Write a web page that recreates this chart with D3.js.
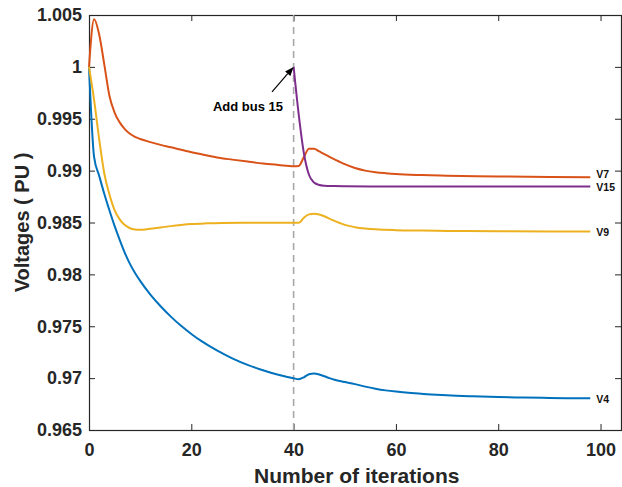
<!DOCTYPE html>
<html>
<head>
<meta charset="utf-8">
<script src="https://cdn.jsdelivr.net/npm/d3@7"></script>
<style>
  html, body { margin: 0; padding: 0; background: #fff; }
  svg { display: block; font-family: "Liberation Sans", Arial, Helvetica, sans-serif; }
</style>
</head>
<body>
<svg id="chart" width="622" height="487"></svg>
<script>
// Bus voltages (PU) against iteration count; bus 15 joins at iteration 40.
const iterV4 = [0,1,2,3,4,5,6,7,8,9,10,12,14,16,18,20,22,25,28,31,34,37,40,41,42,43,44,45,46,47,48,49,50,52,54,56,58,60,63,66,70,75,80,85,90,95,98];
const V4 = [1.0000,0.9913,0.98949,0.98774,0.98615,0.98467,0.98333,0.98208,0.98101,0.98013,0.97937,0.97805,0.97693,0.97593,0.97504,0.97426,0.97356,0.97267,0.97191,0.97128,0.97076,0.97032,0.96998,0.96990,0.97008,0.97038,0.97045,0.97035,0.97018,0.97000,0.96985,0.96972,0.96962,0.96942,0.96918,0.96898,0.96882,0.96870,0.96856,0.96845,0.96834,0.96825,0.96818,0.96813,0.96809,0.96806,0.96805];

const iterV7 = [0,1,2,3,4,5,6,7,8,9,10,12,14,16,19,22,25,28,31,34,37,40,41,42,43,44,45,46,47,48,49,50,52,54,56,58,60,65,70,80,90,98];
const V7 = [1.0000,1.0046,1.0031,1.0002,0.9972,0.9956,0.99465,0.9940,0.99355,0.99325,0.99305,0.99275,0.99248,0.99225,0.99190,0.99158,0.99127,0.99106,0.99087,0.99069,0.99055,0.99042,0.99045,0.99130,0.99210,0.99210,0.99185,0.99160,0.99133,0.99108,0.99085,0.99062,0.99025,0.99000,0.98985,0.98975,0.98967,0.98957,0.98951,0.98944,0.98938,0.98935];

const iterV9 = [0,1,2,3,4,5,6,7,8,9,10,11,12,14,16,18,20,23,26,30,35,40,41,42,43,44,45,46,47,48,49,50,52,54,56,60,65,70,80,90,98];
const V9 = [1.0000,0.9968,0.9930,0.9897,0.9877,0.9862,0.9853,0.98475,0.98445,0.98433,0.98430,0.98433,0.98440,0.98452,0.98465,0.98476,0.98485,0.98492,0.98496,0.98498,0.98498,0.98497,0.98497,0.98545,0.98578,0.98585,0.98578,0.98560,0.98538,0.98515,0.98495,0.98477,0.98455,0.98442,0.98434,0.98426,0.98422,0.98419,0.98416,0.98414,0.98413];

const iterV15 = [40,41,42,43,44,45,46,48,50,55,60,70,80,98];
const V15 = [1.0000,0.9954,0.9917,0.9896,0.98885,0.98862,0.98855,0.98851,0.98849,0.98847,0.98846,0.98846,0.98846,0.98846];

const seriesNames = ["V4", "V7", "V9", "V15"];
const seriesColors = ["#0072BD", "#D95319", "#EDB120", "#7E2F8E"];
const labelShift = [5, 1, 4, 4];

const xTicks = [0, 20, 40, 60, 80, 100];
const yTicks = [0.965, 0.97, 0.975, 0.98, 0.985, 0.99, 0.995, 1, 1.005];
const yTickLabels = ["0.965", "0.97", "0.975", "0.98", "0.985", "0.99", "0.995", "1", "1.005"];

const eventIter = 40;
const eventValue = 1.0;
const eventText = "Add bus 15";

const series = [
  { name: seriesNames[0], xs: iterV4,  ys: V4 },
  { name: seriesNames[1], xs: iterV7,  ys: V7 },
  { name: seriesNames[2], xs: iterV9,  ys: V9 },
  { name: seriesNames[3], xs: iterV15, ys: V15 }
];

const svg = d3.select("#chart");
const padL = 89, padR = 621, padT = 15, padB = 430;

const x = d3.scaleLinear().domain([0, 104]).range([padL, padR]);
const y = d3.scaleLinear().domain([0.965, 1.005]).range([padB, padT]);

const ink = "#262626";
const tickFont = "bold 18px 'Liberation Sans', Arial, sans-serif";

// Bottom axis with inward ticks
const gx = svg.append("g").attr("transform", `translate(0,${padB})`)
  .call(d3.axisBottom(x).tickValues(xTicks).tickSizeInner(-6).tickSizeOuter(0).tickPadding(13));
gx.select(".domain").remove();
gx.selectAll("line").attr("stroke", ink);
gx.selectAll("text").attr("fill", ink).style("font", tickFont);

// Top ticks
svg.append("g").attr("transform", `translate(0,${padT})`)
  .call(d3.axisTop(x).tickValues(xTicks).tickSizeInner(-6).tickSizeOuter(0).tickFormat(""))
  .call(g => g.select(".domain").remove())
  .selectAll("line").attr("stroke", ink);

// Left axis with inward ticks
const gy = svg.append("g").attr("transform", `translate(${padL},0)`)
  .call(d3.axisLeft(y).tickValues(yTicks).tickSizeInner(-6).tickSizeOuter(0).tickPadding(7)
    .tickFormat((d, i) => yTickLabels[i]));
gy.select(".domain").remove();
gy.selectAll("line").attr("stroke", ink);
gy.selectAll("text").attr("fill", ink).style("font", tickFont);

// Right ticks
svg.append("g").attr("transform", `translate(${padR},0)`)
  .call(d3.axisRight(y).tickValues(yTicks).tickSizeInner(-6).tickSizeOuter(0).tickFormat(""))
  .call(g => g.select(".domain").remove())
  .selectAll("line").attr("stroke", ink);

// Axes box
svg.append("rect")
  .attr("x", padL + 0.5).attr("y", padT + 0.5)
  .attr("width", padR - padL).attr("height", padB - padT)
  .attr("fill", "none").attr("stroke", ink).attr("stroke-width", 1.2);

// Dashed marker where bus 15 is added
svg.append("line")
  .attr("x1", x(eventIter)).attr("x2", x(eventIter))
  .attr("y1", y(1.005)).attr("y2", y(0.965))
  .attr("stroke", "#a8a8a8").attr("stroke-width", 1.6)
  .attr("stroke-dasharray", "7,5");

// Voltage curves
const line = d3.line()
  .x(d => x(d[0]))
  .y(d => y(d[1]))
  .curve(d3.curveMonotoneX);

series.forEach((s, i) => {
  const pts = s.xs.map((t, k) => [t, s.ys[k]]);
  svg.append("path")
    .datum(pts)
    .attr("d", line)
    .attr("fill", "none")
    .attr("stroke", seriesColors[i])
    .attr("stroke-width", 2)
    .attr("stroke-linejoin", "round");

  const last = pts[pts.length - 1];
  svg.append("text")
    .attr("x", x(last[0]) + 6)
    .attr("y", y(last[1]) + labelShift[i])
    .attr("fill", "#111")
    .style("font", "bold 10.5px 'Liberation Sans', Arial, sans-serif")
    .text(s.name);
});

// Annotation arrow and text
const hx = x(eventIter), hy = y(eventValue);
const tx = hx - 21.6, ty = hy + 25;
const ang = Math.atan2(hy - ty, hx - tx);
const headLen = 9, headHalf = 3.5;
const bx = hx - headLen * Math.cos(ang), by = hy - headLen * Math.sin(ang);
svg.append("line")
  .attr("x1", tx).attr("y1", ty).attr("x2", bx).attr("y2", by)
  .attr("stroke", "#000").attr("stroke-width", 1.2);
svg.append("path")
  .attr("d", `M${hx},${hy} L${bx + headHalf * Math.sin(ang)},${by - headHalf * Math.cos(ang)} L${bx - headHalf * Math.sin(ang)},${by + headHalf * Math.cos(ang)} Z`)
  .attr("fill", "#000");
svg.append("text")
  .attr("x", tx + 11).attr("y", ty + 19)
  .attr("text-anchor", "end")
  .attr("fill", "#000")
  .style("font", "bold 13px 'Liberation Sans', Arial, sans-serif")
  .text(eventText);

// Axis titles
svg.append("text")
  .attr("x", (padL + x(100)) / 2 + 12).attr("y", 483)
  .attr("text-anchor", "middle").attr("fill", ink)
  .style("font", "bold 21px 'Liberation Sans', Arial, sans-serif")
  .text("Number of iterations");

svg.append("text")
  .attr("transform", `translate(29,${(padT + padB) / 2}) rotate(-90)`)
  .attr("text-anchor", "middle").attr("fill", ink)
  .style("font", "bold 20px 'Liberation Sans', Arial, sans-serif")
  .text("Voltages ( PU )");
</script>
</body>
</html>
